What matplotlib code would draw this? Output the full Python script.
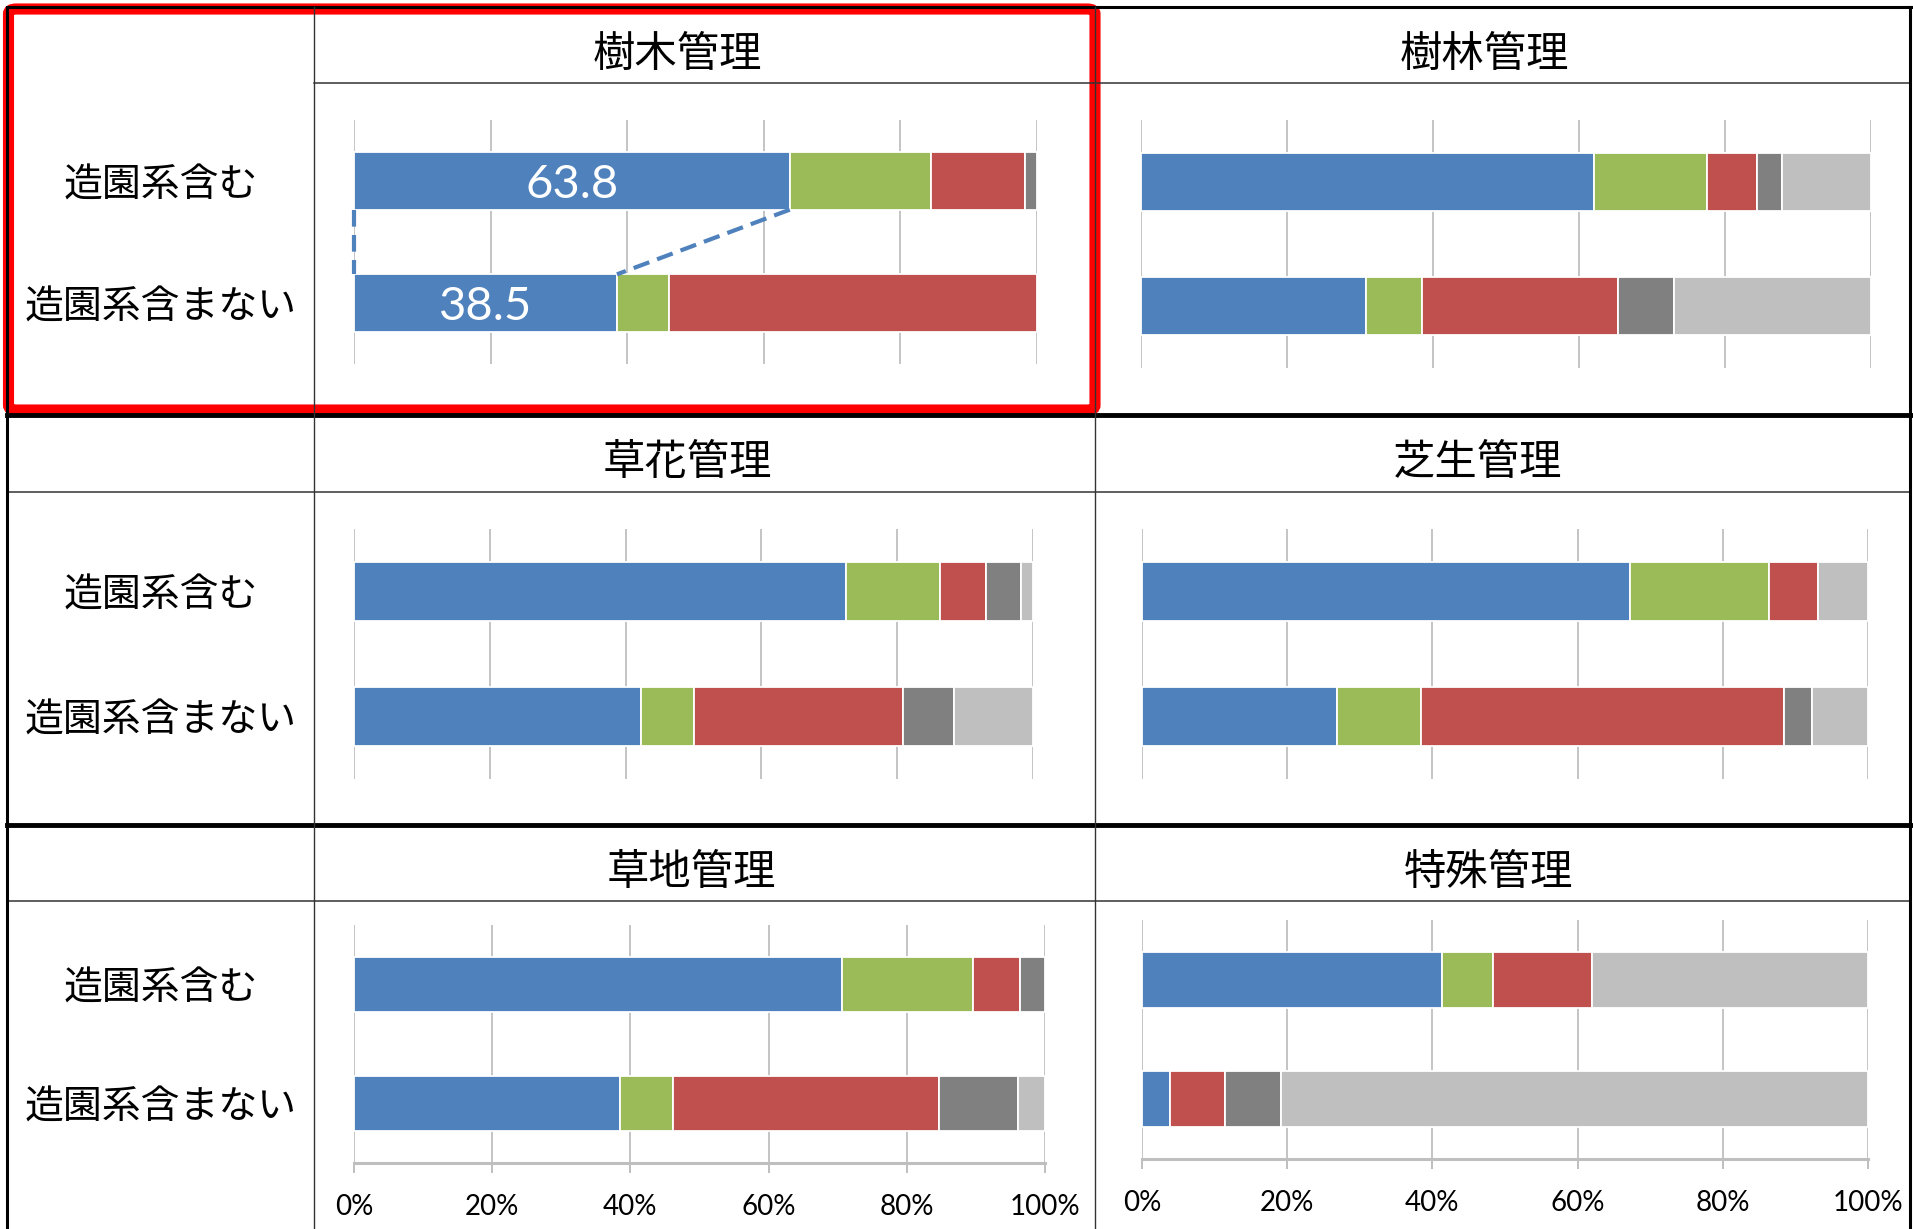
import numpy as np
import matplotlib.pyplot as plt
from matplotlib.lines import Line2D
from matplotlib.patches import FancyBboxPatch
from matplotlib.transforms import blended_transform_factory

plt.rcParams['font.family'] = ['Noto Sans CJK JP', 'DejaVu Sans']

W, H = 1913, 1229

# --- data -------------------------------------------------------------
titles = ['樹木管理', '樹林管理', '草花管理', '芝生管理', '草地管理', '特殊管理']
groups = ['造園系含む', '造園系含まない']
ticks = [0, 20, 40, 60, 80, 100]
tick_labels = ['0%', '20%', '40%', '60%', '80%', '100%']

# per panel: [造園系含む, 造園系含まない]
blue = [[63.8, 38.5], [62.0, 30.8], [72.4, 42.3], [67.2, 26.8], [70.6, 38.5], [41.3, 3.8]]
green = [[20.7, 7.6], [15.5, 7.7], [13.9, 7.7], [19.1, 11.6], [19.0, 7.6], [7.0, 0.0]]
red = [[13.7, 53.9], [6.9, 26.8], [6.8, 30.8], [6.8, 50.0], [6.8, 38.5], [13.7, 7.6]]
gray = [[1.8, 0.0], [3.4, 7.7], [5.1, 7.6], [0.0, 3.9], [3.6, 11.5], [0.0, 7.8]]
lightgray = [[0.0, 0.0], [12.2, 27.0], [1.8, 11.6], [6.9, 7.7], [0.0, 3.9], [38.0, 80.8]]

series = [blue, green, red, gray, lightgray]
colors = ['#4F81BD', '#9BBB59', '#C0504D', '#808080', '#BFBFBF']

label_panel = 0          # only 樹木管理 has value labels on the blue bars

# --- layout (pixels) --------------------------------------------------
boxes = [(354, 120, 1037, 364), (1141, 120, 1871, 368),
         (354, 529, 1033, 779), (1142, 529, 1868, 779),
         (354, 925, 1045, 1163), (1142, 920, 1868, 1159)]
title_pos = [(677, 55), (1484, 55), (687, 463), (1478, 463), (691, 873), (1489, 873)]


def fx(x):
    return x / W


def fy(y):
    return 1 - y / H


fig = plt.figure(figsize=(W / 100, H / 100), dpi=100)

bar_h = 0.47
ypos = np.arange(len(groups))

for i in range(6):
    x0, y0, x1, y1 = boxes[i]
    ax = fig.add_axes([fx(x0), fy(y1), (x1 - x0) / W, (y1 - y0) / H])
    left = np.zeros(len(groups))
    for vals, c in zip(series, colors):
        v = np.array(vals[i])
        keep = v > 0
        ax.barh(ypos[keep], v[keep], left=left[keep], height=bar_h, color=c,
                edgecolor='white', linewidth=1.3, zorder=3)
        left += v

    if i == label_panel:
        for j, v in enumerate(blue[i]):
            ax.text(v / 2, ypos[j], f'{v:.1f}', color='white', ha='center',
                    va='center_baseline', fontsize=34,
                    family=['Lato', 'DejaVu Sans'], zorder=5)
        # series lines between the blue segments
        ax.plot([0, 0], [bar_h / 2, 1 - bar_h / 2], color='#4F81BD', ls='--',
                lw=3, dashes=(4, 2), zorder=4, clip_on=False)
        ax.plot([blue[i][0], blue[i][1]], [bar_h / 2, 1 - bar_h / 2], color='#4F81BD',
                ls='--', lw=3, dashes=(4, 2), zorder=4)

    ax.set_xlim(0, 100)
    ax.set_ylim(1.5, -0.5)
    ax.set_xticks(ticks)
    ax.set_yticks([])
    ax.grid(axis='x', color='#C4C4C4', lw=1.4)
    ax.set_axisbelow(True)
    for s in ['top', 'left', 'right']:
        ax.spines[s].set_visible(False)
    if i >= 4:
        ax.spines['bottom'].set_color('#BFBFBF')
        ax.spines['bottom'].set_linewidth(2.2)
        ax.set_xticklabels(tick_labels, family=['Lato', 'DejaVu Sans'])
        ax.tick_params(axis='x', direction='out', length=7.5, width=1.4,
                       color='#BFBFBF', labelsize=20, pad=15)
    else:
        ax.spines['bottom'].set_visible(False)
        ax.tick_params(axis='x', bottom=False, labelbottom=False)

    ax.patch.set_alpha(0)

    # title in header cell
    tx, ty = title_pos[i]
    fig.text(fx(tx), fy(ty), titles[i], ha='center', va='center', fontsize=30.5)

    # row labels (left column, once per row)
    if i % 2 == 0:
        tr = blended_transform_factory(fig.transFigure, ax.transData)
        for j, g in enumerate(groups):
            ax.annotate(g, xy=(fx(161), ypos[j]), xycoords=tr, xytext=(0, -3),
                        textcoords='offset points', ha='center', va='center',
                        fontsize=28, annotation_clip=False)


# --- table lines ------------------------------------------------------
def hline(y, xa, xb, lw, color='black'):
    fig.add_artist(Line2D([fx(xa), fx(xb)], [fy(y), fy(y)], color=color, lw=lw))


def vline(x, ya, yb, lw, color='black'):
    fig.add_artist(Line2D([fx(x), fx(x)], [fy(ya), fy(yb)], color=color, lw=lw))


hline(7, 7, 1911, 2.2)
hline(415, 7, 1911, 3.5)
hline(825, 7, 1911, 3.5)
hline(83, 314, 1911, 1.1, '#333333')
hline(492, 7, 1911, 1.1, '#333333')
hline(901, 7, 1911, 1.1, '#333333')
vline(7, 7, 1229, 2.2)
vline(1910, 7, 1229, 2.2)
vline(314, 7, 1229, 1.0, '#333333')
vline(1095, 7, 1229, 1.0, '#333333')

# red highlight frame around 樹木管理
fig.add_artist(FancyBboxPatch((fx(8.5), fy(410)), fx(1095) - fx(8.5), fy(9) - fy(410),
                              boxstyle='round,pad=0,rounding_size=0.004',
                              transform=fig.transFigure, fill=False,
                              edgecolor='#FF0000', lw=8))

fig.savefig('out.png', dpi=100)
